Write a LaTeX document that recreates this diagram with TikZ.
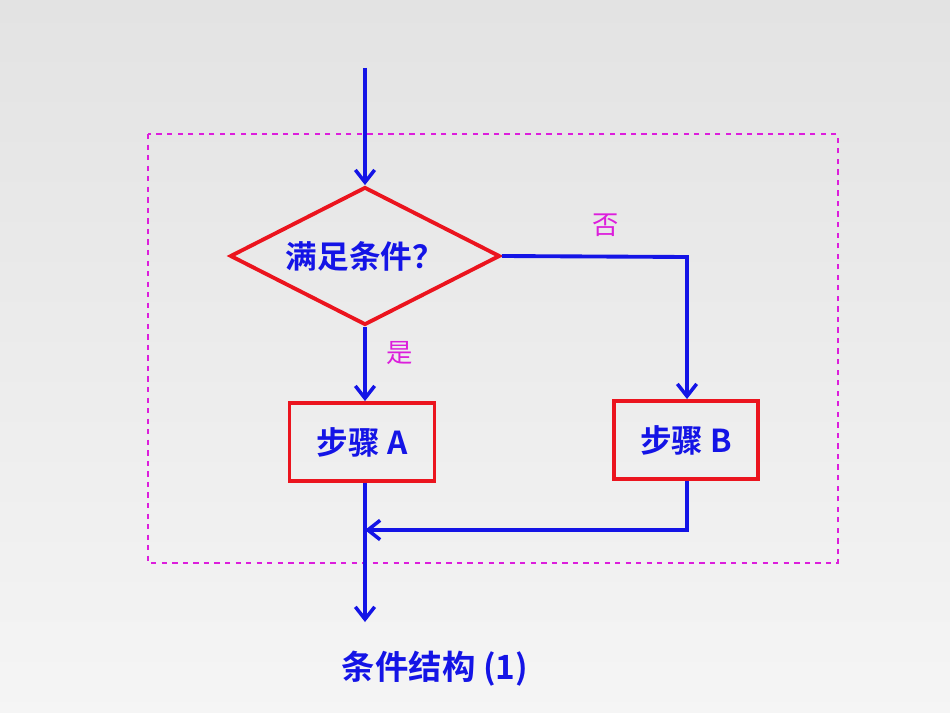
\documentclass[tikz,border=0pt]{standalone}
\usepackage{fontspec}
\newfontfamily\cjk{Noto Sans CJK SC}[BoldFont={Noto Sans CJK SC Bold}]
\usetikzlibrary{arrows.meta,shapes.geometric}
\definecolor{fblue}{RGB}{20,20,230}
\definecolor{fred}{RGB}{235,20,30}
\definecolor{fmag}{RGB}{220,30,220}
\tikzset{
  flow/.style={draw=fblue,line width=2.2pt,-{Straight Barb[length=7pt,width=11pt,line width=2pt]}},
  boxst/.style={draw=fred,line width=2.2pt,text=fblue,font=\cjk\bfseries\fontsize{18}{20}\selectfont},
  lab/.style={text=fmag,font=\cjk\fontsize{15}{18}\selectfont}
}
\begin{document}
\begin{tikzpicture}[x=0.02cm,y=-0.02cm]
\useasboundingbox (0,0) rectangle (950,713);
\shade[top color=gray!22,bottom color=gray!8] (0,0) rectangle (950,713);
\draw[fmag,dashed,line width=0.8pt] (148,134) rectangle (838,563);
\coordinate (start) at (365,68);
\node[diamond,draw=fred,line width=2.2pt,aspect=1.96,inner sep=0pt,minimum width=5.4cm,minimum height=2.76cm,text=fblue,font=\cjk\bfseries\fontsize{18}{20}\selectfont] (d) at (365,256) {满足条件？};
\node[boxst,minimum width=2.9cm,minimum height=1.56cm] (a) at (362,442) {步骤 A};
\node[boxst,minimum width=2.88cm,minimum height=1.56cm] (b) at (686,440) {步骤 B};
\coordinate (nb) at (687,257);
\coordinate (jb) at (687,530);
\coordinate (ja) at (365,530);
\coordinate (endp) at (365,622);
\draw[flow] (start) -- (d.north);
\draw[flow] (d.south) -- (a.north -| d.south);
\draw[flow] (d.east) -- (nb) -- (b.north -| nb);
\draw[flow] (b.south -| nb) -- (jb) -- (ja);
\draw[flow] (a.south -| d.south) -- (endp);
\node[lab] (yes) at (400,353) {是};
\node[lab] (no) at (606,225) {否};
\node[text=fblue,font=\cjk\bfseries\fontsize{19}{22}\selectfont] (cap) at (435,669) {条件结构 (1)};
\end{tikzpicture}
\end{document}
